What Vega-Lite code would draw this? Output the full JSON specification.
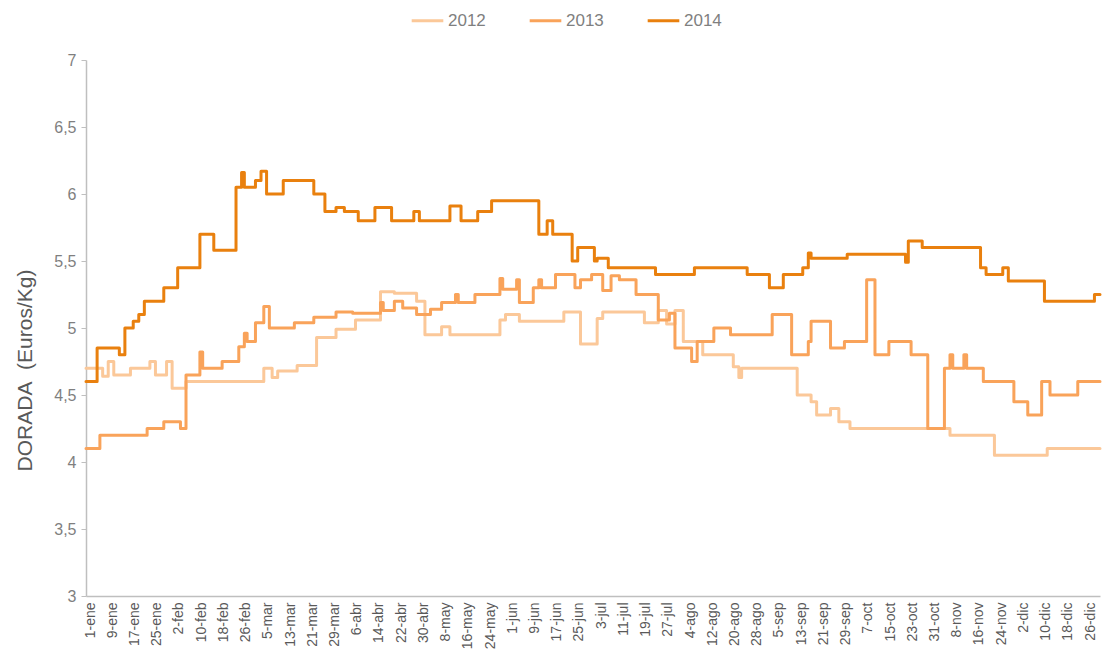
{
  "$schema": "https://vega.github.io/schema/vega-lite/v6.json",
  "autosize": "none",
  "width": 1014,
  "height": 536,
  "padding": {"left": 86, "top": 60, "right": 2, "bottom": 62},
  "background": "white",
  "config": {
    "view": {"stroke": null},
    "font": "Liberation Sans"
  },
  "datasets": {
    "precios": [
      {"anio": "2012", "dia": 1, "precio": 4.70}, {"anio": "2012", "dia": 7, "precio": 4.64}, {"anio": "2012", "dia": 9, "precio": 4.75}, {"anio": "2012", "dia": 11, "precio": 4.65}, {"anio": "2012", "dia": 17, "precio": 4.70}, {"anio": "2012", "dia": 24, "precio": 4.75}, {"anio": "2012", "dia": 26, "precio": 4.65}, {"anio": "2012", "dia": 30, "precio": 4.75}, {"anio": "2012", "dia": 32, "precio": 4.55}, {"anio": "2012", "dia": 37, "precio": 4.60}, {"anio": "2012", "dia": 65, "precio": 4.70}, {"anio": "2012", "dia": 68, "precio": 4.63}, {"anio": "2012", "dia": 70, "precio": 4.68}, {"anio": "2012", "dia": 77, "precio": 4.72}, {"anio": "2012", "dia": 84, "precio": 4.93}, {"anio": "2012", "dia": 91, "precio": 4.99}, {"anio": "2012", "dia": 98, "precio": 5.06}, {"anio": "2012", "dia": 107, "precio": 5.27}, {"anio": "2012", "dia": 112, "precio": 5.26}, {"anio": "2012", "dia": 120, "precio": 5.20}, {"anio": "2012", "dia": 123, "precio": 4.95}, {"anio": "2012", "dia": 129, "precio": 5.01}, {"anio": "2012", "dia": 132, "precio": 4.95}, {"anio": "2012", "dia": 150, "precio": 5.06}, {"anio": "2012", "dia": 152, "precio": 5.10}, {"anio": "2012", "dia": 157, "precio": 5.05}, {"anio": "2012", "dia": 173, "precio": 5.12}, {"anio": "2012", "dia": 179, "precio": 4.88}, {"anio": "2012", "dia": 185, "precio": 5.07}, {"anio": "2012", "dia": 187, "precio": 5.12}, {"anio": "2012", "dia": 202, "precio": 5.04}, {"anio": "2012", "dia": 207, "precio": 5.13}, {"anio": "2012", "dia": 210, "precio": 5.03}, {"anio": "2012", "dia": 213, "precio": 5.13}, {"anio": "2012", "dia": 216, "precio": 4.90}, {"anio": "2012", "dia": 223, "precio": 4.80}, {"anio": "2012", "dia": 234, "precio": 4.71}, {"anio": "2012", "dia": 236, "precio": 4.63}, {"anio": "2012", "dia": 237, "precio": 4.70}, {"anio": "2012", "dia": 257, "precio": 4.50}, {"anio": "2012", "dia": 262, "precio": 4.45}, {"anio": "2012", "dia": 264, "precio": 4.35}, {"anio": "2012", "dia": 269, "precio": 4.40}, {"anio": "2012", "dia": 272, "precio": 4.30}, {"anio": "2012", "dia": 276, "precio": 4.25}, {"anio": "2012", "dia": 312, "precio": 4.20}, {"anio": "2012", "dia": 328, "precio": 4.05}, {"anio": "2012", "dia": 347, "precio": 4.10}, {"anio": "2012", "dia": 366, "precio": 4.10},

      {"anio": "2013", "dia": 1, "precio": 4.10}, {"anio": "2013", "dia": 6, "precio": 4.20}, {"anio": "2013", "dia": 23, "precio": 4.25}, {"anio": "2013", "dia": 29, "precio": 4.30}, {"anio": "2013", "dia": 35, "precio": 4.25}, {"anio": "2013", "dia": 37, "precio": 4.65}, {"anio": "2013", "dia": 42, "precio": 4.82}, {"anio": "2013", "dia": 43, "precio": 4.70}, {"anio": "2013", "dia": 50, "precio": 4.75}, {"anio": "2013", "dia": 56, "precio": 4.86}, {"anio": "2013", "dia": 58, "precio": 4.96}, {"anio": "2013", "dia": 59, "precio": 4.90}, {"anio": "2013", "dia": 62, "precio": 5.04}, {"anio": "2013", "dia": 65, "precio": 5.16}, {"anio": "2013", "dia": 67, "precio": 5.00}, {"anio": "2013", "dia": 76, "precio": 5.04}, {"anio": "2013", "dia": 83, "precio": 5.08}, {"anio": "2013", "dia": 91, "precio": 5.12}, {"anio": "2013", "dia": 97, "precio": 5.11}, {"anio": "2013", "dia": 107, "precio": 5.19}, {"anio": "2013", "dia": 108, "precio": 5.13}, {"anio": "2013", "dia": 112, "precio": 5.20}, {"anio": "2013", "dia": 115, "precio": 5.15}, {"anio": "2013", "dia": 120, "precio": 5.10}, {"anio": "2013", "dia": 125, "precio": 5.14}, {"anio": "2013", "dia": 129, "precio": 5.19}, {"anio": "2013", "dia": 134, "precio": 5.25}, {"anio": "2013", "dia": 135, "precio": 5.19}, {"anio": "2013", "dia": 141, "precio": 5.25}, {"anio": "2013", "dia": 150, "precio": 5.37}, {"anio": "2013", "dia": 151, "precio": 5.29}, {"anio": "2013", "dia": 156, "precio": 5.36}, {"anio": "2013", "dia": 157, "precio": 5.19}, {"anio": "2013", "dia": 162, "precio": 5.30}, {"anio": "2013", "dia": 164, "precio": 5.36}, {"anio": "2013", "dia": 165, "precio": 5.30}, {"anio": "2013", "dia": 170, "precio": 5.40}, {"anio": "2013", "dia": 177, "precio": 5.30}, {"anio": "2013", "dia": 179, "precio": 5.36}, {"anio": "2013", "dia": 183, "precio": 5.40}, {"anio": "2013", "dia": 187, "precio": 5.28}, {"anio": "2013", "dia": 190, "precio": 5.39}, {"anio": "2013", "dia": 193, "precio": 5.36}, {"anio": "2013", "dia": 199, "precio": 5.25}, {"anio": "2013", "dia": 207, "precio": 5.06}, {"anio": "2013", "dia": 211, "precio": 5.11}, {"anio": "2013", "dia": 213, "precio": 4.85}, {"anio": "2013", "dia": 219, "precio": 4.75}, {"anio": "2013", "dia": 221, "precio": 4.90}, {"anio": "2013", "dia": 227, "precio": 5.00}, {"anio": "2013", "dia": 233, "precio": 4.95}, {"anio": "2013", "dia": 248, "precio": 5.10}, {"anio": "2013", "dia": 255, "precio": 4.80}, {"anio": "2013", "dia": 261, "precio": 4.90}, {"anio": "2013", "dia": 262, "precio": 5.05}, {"anio": "2013", "dia": 269, "precio": 4.85}, {"anio": "2013", "dia": 274, "precio": 4.90}, {"anio": "2013", "dia": 282, "precio": 5.36}, {"anio": "2013", "dia": 285, "precio": 4.80}, {"anio": "2013", "dia": 290, "precio": 4.90}, {"anio": "2013", "dia": 298, "precio": 4.80}, {"anio": "2013", "dia": 304, "precio": 4.25}, {"anio": "2013", "dia": 310, "precio": 4.70}, {"anio": "2013", "dia": 312, "precio": 4.80}, {"anio": "2013", "dia": 313, "precio": 4.70}, {"anio": "2013", "dia": 317, "precio": 4.80}, {"anio": "2013", "dia": 318, "precio": 4.70}, {"anio": "2013", "dia": 324, "precio": 4.60}, {"anio": "2013", "dia": 335, "precio": 4.45}, {"anio": "2013", "dia": 340, "precio": 4.35}, {"anio": "2013", "dia": 345, "precio": 4.60}, {"anio": "2013", "dia": 348, "precio": 4.50}, {"anio": "2013", "dia": 358, "precio": 4.60}, {"anio": "2013", "dia": 366, "precio": 4.60},

      {"anio": "2014", "dia": 1, "precio": 4.60}, {"anio": "2014", "dia": 5, "precio": 4.85}, {"anio": "2014", "dia": 13, "precio": 4.80}, {"anio": "2014", "dia": 15, "precio": 5.00}, {"anio": "2014", "dia": 18, "precio": 5.05}, {"anio": "2014", "dia": 20, "precio": 5.10}, {"anio": "2014", "dia": 22, "precio": 5.20}, {"anio": "2014", "dia": 29, "precio": 5.30}, {"anio": "2014", "dia": 34, "precio": 5.45}, {"anio": "2014", "dia": 42, "precio": 5.70}, {"anio": "2014", "dia": 47, "precio": 5.58}, {"anio": "2014", "dia": 55, "precio": 6.05}, {"anio": "2014", "dia": 57, "precio": 6.16}, {"anio": "2014", "dia": 58, "precio": 6.05}, {"anio": "2014", "dia": 62, "precio": 6.10}, {"anio": "2014", "dia": 64, "precio": 6.17}, {"anio": "2014", "dia": 66, "precio": 6.00}, {"anio": "2014", "dia": 72, "precio": 6.10}, {"anio": "2014", "dia": 83, "precio": 6.00}, {"anio": "2014", "dia": 87, "precio": 5.87}, {"anio": "2014", "dia": 91, "precio": 5.90}, {"anio": "2014", "dia": 94, "precio": 5.87}, {"anio": "2014", "dia": 99, "precio": 5.80}, {"anio": "2014", "dia": 105, "precio": 5.90}, {"anio": "2014", "dia": 111, "precio": 5.80}, {"anio": "2014", "dia": 119, "precio": 5.87}, {"anio": "2014", "dia": 121, "precio": 5.80}, {"anio": "2014", "dia": 132, "precio": 5.91}, {"anio": "2014", "dia": 136, "precio": 5.80}, {"anio": "2014", "dia": 142, "precio": 5.87}, {"anio": "2014", "dia": 147, "precio": 5.95}, {"anio": "2014", "dia": 164, "precio": 5.70}, {"anio": "2014", "dia": 167, "precio": 5.80}, {"anio": "2014", "dia": 169, "precio": 5.70}, {"anio": "2014", "dia": 176, "precio": 5.50}, {"anio": "2014", "dia": 178, "precio": 5.60}, {"anio": "2014", "dia": 184, "precio": 5.50}, {"anio": "2014", "dia": 185, "precio": 5.52}, {"anio": "2014", "dia": 189, "precio": 5.45}, {"anio": "2014", "dia": 206, "precio": 5.40}, {"anio": "2014", "dia": 220, "precio": 5.45}, {"anio": "2014", "dia": 239, "precio": 5.40}, {"anio": "2014", "dia": 247, "precio": 5.30}, {"anio": "2014", "dia": 252, "precio": 5.40}, {"anio": "2014", "dia": 259, "precio": 5.45}, {"anio": "2014", "dia": 261, "precio": 5.56}, {"anio": "2014", "dia": 262, "precio": 5.52}, {"anio": "2014", "dia": 275, "precio": 5.55}, {"anio": "2014", "dia": 296, "precio": 5.49}, {"anio": "2014", "dia": 297, "precio": 5.65}, {"anio": "2014", "dia": 302, "precio": 5.60}, {"anio": "2014", "dia": 323, "precio": 5.45}, {"anio": "2014", "dia": 325, "precio": 5.40}, {"anio": "2014", "dia": 331, "precio": 5.45}, {"anio": "2014", "dia": 333, "precio": 5.35}, {"anio": "2014", "dia": 346, "precio": 5.20}, {"anio": "2014", "dia": 364, "precio": 5.25}, {"anio": "2014", "dia": 366, "precio": 5.25}
    ]
  },
  "data": {"name": "precios"},
  "mark": {"type": "line", "interpolate": "step-after", "strokeJoin": "round", "strokeCap": "round"},
  "encoding": {
    "x": {
      "field": "dia",
      "type": "quantitative",
      "scale": {"domain": [1, 366], "nice": false, "zero": false},
      "axis": {
        "title": null,
        "values": [1, 9, 17, 25, 33, 41, 49, 57, 65, 73, 81, 89, 97, 105, 113, 121, 129, 137, 145, 153, 161, 169, 177, 185, 193, 201, 209, 217, 225, 233, 241, 249, 257, 265, 273, 281, 289, 297, 305, 313, 321, 329, 337, 345, 353, 361],
        "labelExpr": "date(datetime(2012,0,datum.value)) + '-' + ['ene','feb','mar','abr','may','jun','jul','ago','sep','oct','nov','dic'][month(datetime(2012,0,datum.value))]",
        "labelAngle": -90,
        "labelFontSize": 14,
        "labelColor": "#595959",
        "labelOverlap": false,
        "labelFlush": false,
        "labelBound": false,
        "labelOffset": 4,
        "labelPadding": 6,
        "ticks": false,
        "grid": false,
        "domainColor": "#bfbfbf",
        "domainWidth": 1.5
      }
    },
    "y": {
      "field": "precio",
      "type": "quantitative",
      "scale": {"domain": [3, 7], "nice": false, "zero": false},
      "axis": {
        "title": "DORADA\u00a0\u00a0(Euros/Kg)",
        "titleFontSize": 21,
        "titleFontWeight": "normal",
        "titleColor": "#595959",
        "titlePadding": 18,
        "titleY": 310,
        "values": [3, 3.5, 4, 4.5, 5, 5.5, 6, 6.5, 7],
        "labelExpr": "replace(format(datum.value, '~g'), '.', ',')",
        "labelFontSize": 16,
        "labelColor": "#7f7f7f",
        "labelPadding": 5,
        "tickSize": 5,
        "tickColor": "#bfbfbf",
        "grid": false,
        "domainColor": "#bfbfbf",
        "domainWidth": 1.5
      }
    },
    "color": {
      "field": "anio",
      "type": "nominal",
      "scale": {"domain": ["2012", "2013", "2014"], "range": ["#FBC899", "#F9A35A", "#E9800E"]},
      "legend": {
        "title": null,
        "orient": "none",
        "direction": "horizontal",
        "legendX": 324,
        "legendY": -57,
        "symbolType": "stroke",
        "symbolSize": 1000,
        "symbolStrokeWidth": 4,
        "labelFontSize": 17,
        "labelColor": "#7f7f7f",
        "labelOffset": 3,
        "columnPadding": 37
      }
    },
    "strokeWidth": {
      "field": "anio",
      "type": "ordinal",
      "scale": {"domain": ["2012", "2013", "2014"], "range": [3, 3, 4.5]},
      "legend": null
    }
  }
}
